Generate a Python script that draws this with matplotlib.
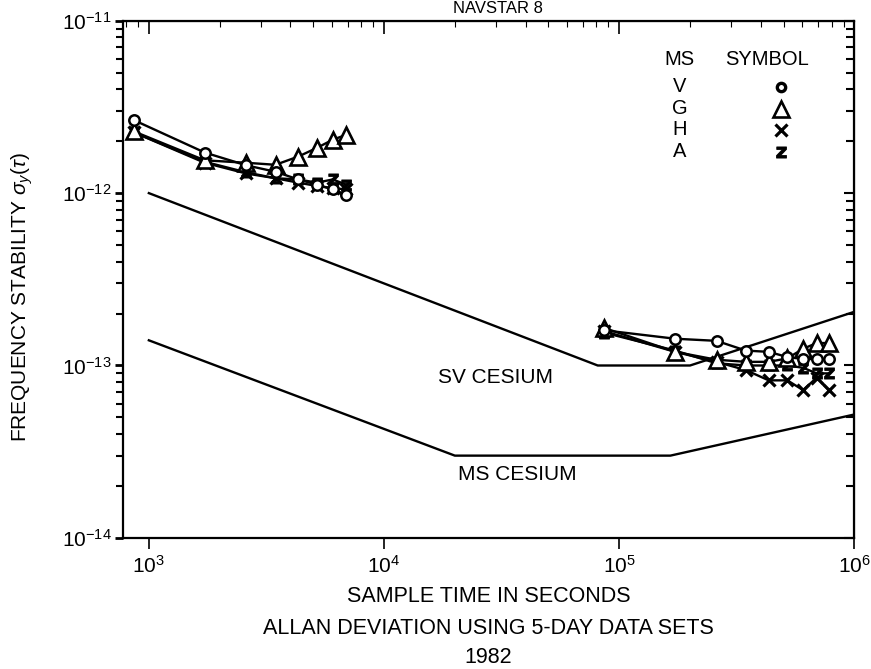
import numpy as np
import matplotlib.pyplot as plt

plt.rcParams['font.family'] = ['Liberation Sans', 'DejaVu Sans']
plt.rcParams['mathtext.fontset'] = 'custom'
plt.rcParams['mathtext.rm'] = 'Liberation Sans'
plt.rcParams['mathtext.it'] = 'Liberation Sans:italic'

# sample times: multiples of 0.01 day and of 1 day
tau_short = 864.0 * np.arange(1, 9)
tau_long = 86400.0 * np.arange(1, 10)

# Allan deviation per clock, short taus (x1e-12)
V_short = np.array([2.65, 1.72, 1.45, 1.33, 1.20, 1.12, 1.05, 0.98]) * 1e-12
G_short = np.array([2.28, 1.55, 1.50, 1.46, 1.63, 1.83, 2.04, 2.18]) * 1e-12
H_short = np.array([2.25, 1.50, 1.30, 1.22, 1.15, 1.10, 1.07, 1.05]) * 1e-12
A_short = np.array([2.25, 1.52, 1.32, 1.22, 1.20, 1.15, 1.20, 1.12]) * 1e-12

# long taus (x1e-13)
V_long = np.array([1.60, 1.43, 1.39, 1.22, 1.20, 1.12, 1.09, 1.09, 1.09]) * 1e-13
G_long = np.array([1.65, 1.20, 1.08, 1.05, 1.05, 1.10, 1.25, 1.35, 1.35]) * 1e-13
H_long = np.array([1.58, 1.20, 1.05, 0.94, 0.82, 0.82, 0.72, 0.85, 0.72]) * 1e-13
A_long = np.array([1.55, 1.22, 1.03, 1.00, 1.00, 1.00, 0.97, 0.90, 0.90]) * 1e-13

# spec lines
sv_tau = [1e3, 8.1e4, 2.0e5, 1e6]
sv_sig = [1.0e-12, 1.0e-13, 1.0e-13, 2.05e-13]
ms_tau = [1e3, 2.0e4, 1.65e5, 1e6]
ms_sig = [1.4e-13, 3.0e-14, 3.0e-14, 5.2e-14]

clocks = ['V', 'G', 'H', 'A']
markers = {'V': dict(marker='o', ms=7.5, mfc='white', mew=1.8),
           'G': dict(marker='^', ms=11, mfc='white', mew=1.9),
           'H': dict(marker='x', ms=8, mew=2.3),
           'A': dict(marker=r'$\mathbf{z}$', ms=8, mew=0.6)}
short = {'V': V_short, 'G': G_short, 'H': H_short, 'A': A_short}
long_ = {'V': V_long, 'G': G_long, 'H': H_long, 'A': A_long}

fig = plt.figure(figsize=(8.71, 6.69), dpi=100)
ax = fig.add_axes([0.141, 0.196, 0.840, 0.773])

ax.plot(sv_tau, sv_sig, 'k-', lw=1.7)
ax.plot(ms_tau, ms_sig, 'k-', lw=1.7)

for c in ['H', 'A', 'G', 'V']:
    ax.plot(tau_short, short[c], 'k-', lw=1.7, mec='k', **markers[c])
    ax.plot(tau_long, long_[c], 'k-', lw=1.7, mec='k', **markers[c])

ax.set_xscale('log')
ax.set_yscale('log')
ax.set_xlim(775, 1e6)
ax.set_ylim(1e-14, 1e-11)

ax.set_xticks([1e3, 1e4, 1e5, 1e6])
ax.set_xticklabels([r'$10^3$', r'$10^4$', r'$10^5$', r'$10^6$'])
ax.set_yticks([1e-14, 1e-13, 1e-12, 1e-11])
ax.set_yticklabels([r'$10^{-14}$', r'$10^{-13}$', r'$10^{-12}$', r'$10^{-11}$'])
ax.tick_params(axis='x', which='major', direction='out', length=8, width=1.2,
               labelsize=15, pad=4)
ax.tick_params(axis='x', which='minor', length=0)
ax.tick_params(axis='y', which='major', direction='out', length=6, width=2,
               labelsize=15, pad=2)
ax.tick_params(axis='y', which='minor', direction='out', length=5, width=1.5)
for s in ax.spines.values():
    s.set_linewidth(1.6)

# inward ticks on top and right
top = ax.secondary_xaxis('top')
top.tick_params(which='major', direction='in', length=9, width=1.2,
                labeltop=False)
top.tick_params(which='minor', direction='in', length=4, width=0.8)
top.set_xticks([1e3, 1e4, 1e5, 1e6])
right = ax.secondary_yaxis('right')
right.tick_params(which='major', direction='in', length=7, width=1.5,
                  labelright=False)
right.tick_params(which='minor', direction='in', length=6, width=1.5)
right.set_yticks([1e-14, 1e-13, 1e-12, 1e-11])

# symbol key
ax.text(0.761, 0.925, 'MS', transform=ax.transAxes, ha='center', va='center',
        fontsize=14.5)
ax.text(0.881, 0.925, 'SYMBOL', transform=ax.transAxes, ha='center',
        va='center', fontsize=14.5)
key_y = [0.872, 0.830, 0.789, 0.747]
for c, y in zip(clocks, key_y):
    ax.text(0.761, y, c, transform=ax.transAxes, ha='center', va='center',
            fontsize=14.5)
    kw = dict(markers[c])
    if c == 'V':
        kw['ms'] = 6
        kw['mew'] = 2.4
    ax.plot([0.899], [y], transform=ax.transAxes, color='k', mec='k',
            ls='none', clip_on=False, **kw)

ax.text(0.509, 0.31, 'SV CESIUM', transform=ax.transAxes, ha='center',
        va='center', fontsize=15)
ax.text(0.539, 0.122, 'MS CESIUM', transform=ax.transAxes, ha='center',
        va='center', fontsize=15)

fig.text(0.025, 0.556, r'FREQUENCY STABILITY $\sigma_y(\tau)$', rotation=90,
         ha='center', va='center', fontsize=15)
fig.text(0.561, 0.109, 'SAMPLE TIME IN SECONDS', ha='center', va='center',
         fontsize=15.5)
fig.text(0.561, 0.061, 'ALLAN DEVIATION USING 5-DAY DATA SETS', ha='center',
         va='center', fontsize=15.5)
fig.text(0.561, 0.017, '1982', ha='center', va='center', fontsize=15.5)
fig.text(0.572, 0.999, 'NAVSTAR 8', ha='center', va='top', fontsize=12)

fig.savefig('out.png', dpi=100)
